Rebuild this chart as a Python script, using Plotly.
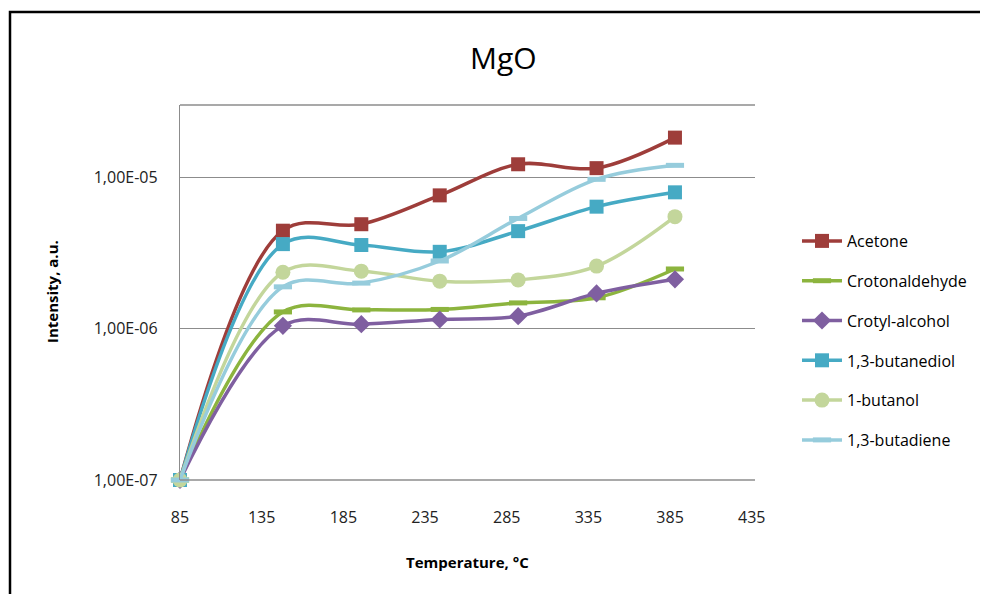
import plotly.graph_objects as go

temperature = [85, 148, 196, 244, 292, 340, 388]
acetone = [1e-7, 4.44e-6, 4.9e-6, 7.6e-6, 1.22e-5, 1.15e-5, 1.83e-5]
crotonaldehyde = [1e-7, 1.29e-6, 1.33e-6, 1.34e-6, 1.48e-6, 1.6e-6, 2.48e-6]
crotyl_alcohol = [1e-7, 1.045e-6, 1.07e-6, 1.15e-6, 1.21e-6, 1.71e-6, 2.12e-6]
butanediol = [1e-7, 3.62e-6, 3.57e-6, 3.22e-6, 4.41e-6, 6.4e-6, 7.96e-6]
butanol = [1e-7, 2.36e-6, 2.40e-6, 2.06e-6, 2.1e-6, 2.59e-6, 5.5e-6]
butadiene = [1e-7, 1.89e-6, 2.0e-6, 2.8e-6, 5.35e-6, 9.7e-6, 1.2e-5]

x_ticks = [85, 135, 185, 235, 285, 335, 385, 435]
y_tickvals = [1e-7, 1e-6, 1e-5]
y_ticktext = ["1,00E-07", "1,00E-06", "1,00E-05"]

series = [
    ("Acetone", acetone, "#9E3D3A", dict(symbol="square", size=14)),
    ("Crotonaldehyde", crotonaldehyde, "#8CB43E", dict(symbol="line-ew", size=13, line=dict(width=5, color="#8CB43E"))),
    ("Crotyl-alcohol", crotyl_alcohol, "#7F5FA0", dict(symbol="diamond", size=14)),
    ("1,3-butanediol", butanediol, "#46AAC4", dict(symbol="square", size=14)),
    ("1-butanol", butanol, "#C3D69B", dict(symbol="circle", size=15)),
    ("1,3-butadiene", butadiene, "#96CCDC", dict(symbol="line-ew", size=13, line=dict(width=5, color="#96CCDC"))),
]

FONT = "Open Sans, Lato, sans-serif"

fig = go.Figure()
for name, vals, color, mk in series:
    fig.add_trace(go.Scatter(
        x=temperature, y=vals, name=name, mode="lines+markers",
        line=dict(color=color, width=3.5, shape="spline", smoothing=1.0),
        marker=dict(color=color, **mk), cliponaxis=False, legendgroup=name,
    ))

# screen geometry (page body has an 8px offset)
OFF = 8
W, H = 988 - OFF, 594 - OFF
L, R, T, B = 180, 755, 105, 480   # plot area in screen pixels

def px_x(p):
    return (p - L) / (R - L)

def px_y(p):
    return (B - p) / (B - T)

fig.update_layout(
    width=W, height=H,
    margin=dict(l=L - OFF, r=W - (R - OFF), t=T - OFF, b=H - (B - OFF)),
    paper_bgcolor="white", plot_bgcolor="white",
    font=dict(family=FONT, color="#000000", size=16),
    showlegend=True,
    legend=dict(x=px_x(797), xanchor="left", y=px_y(224), yanchor="top",
                font=dict(size=16, color="#000000", family=FONT), tracegroupgap=16,
                bgcolor="rgba(0,0,0,0)", itemwidth=40),
    xaxis=dict(range=[85, 437], tickvals=x_ticks, ticktext=[str(v) for v in x_ticks],
               showgrid=False, zeroline=False, showline=False, ticks="",
               tickfont=dict(size=16, color="#222222", family=FONT),
               ticklabelstandoff=26),
    yaxis=dict(type="log", range=[-7, -4.522], tickvals=y_tickvals, ticktext=y_ticktext,
               showgrid=True, gridcolor="#8C8C8C", gridwidth=1.3, zeroline=False,
               showline=True, linecolor="#8C8C8C", linewidth=1.3, ticks="",
               tickfont=dict(size=16, color="#222222", family=FONT),
               ticklabelstandoff=18),
    annotations=[
        dict(text="MgO", xref="paper", yref="paper", x=px_x(503), y=px_y(57),
             xanchor="center", yanchor="middle", showarrow=False,
             font=dict(size=30, color="#000000", family=FONT)),
        dict(text="<b>Temperature, °C</b>", xref="paper", yref="paper",
             x=px_x(467), y=px_y(562), xanchor="center", yanchor="middle", showarrow=False,
             font=dict(size=15, color="#000000", family=FONT)),
        dict(text="<b>Intensity, a.u.</b>", xref="paper", yref="paper",
             x=px_x(52), y=px_y(292), xanchor="center", yanchor="middle", showarrow=False,
             textangle=-90, font=dict(size=15, color="#000000", family=FONT)),
    ],
    shapes=[
        dict(type="line", xref="paper", yref="paper", x0=0, x1=1, y0=1, y1=1,
             line=dict(color="#8C8C8C", width=1.3)),
        dict(type="line", xref="paper", yref="paper", x0=0, x1=1, y0=0, y1=0,
             line=dict(color="#8C8C8C", width=1.3)),
        dict(type="rect", xref="paper", yref="paper",
             x0=px_x(10), x1=px_x(1100), y0=px_y(12), y1=px_y(700),
             line=dict(color="#000000", width=2.5), fillcolor="rgba(0,0,0,0)", layer="below"),
    ],
)

fig.write_html("out.html")
